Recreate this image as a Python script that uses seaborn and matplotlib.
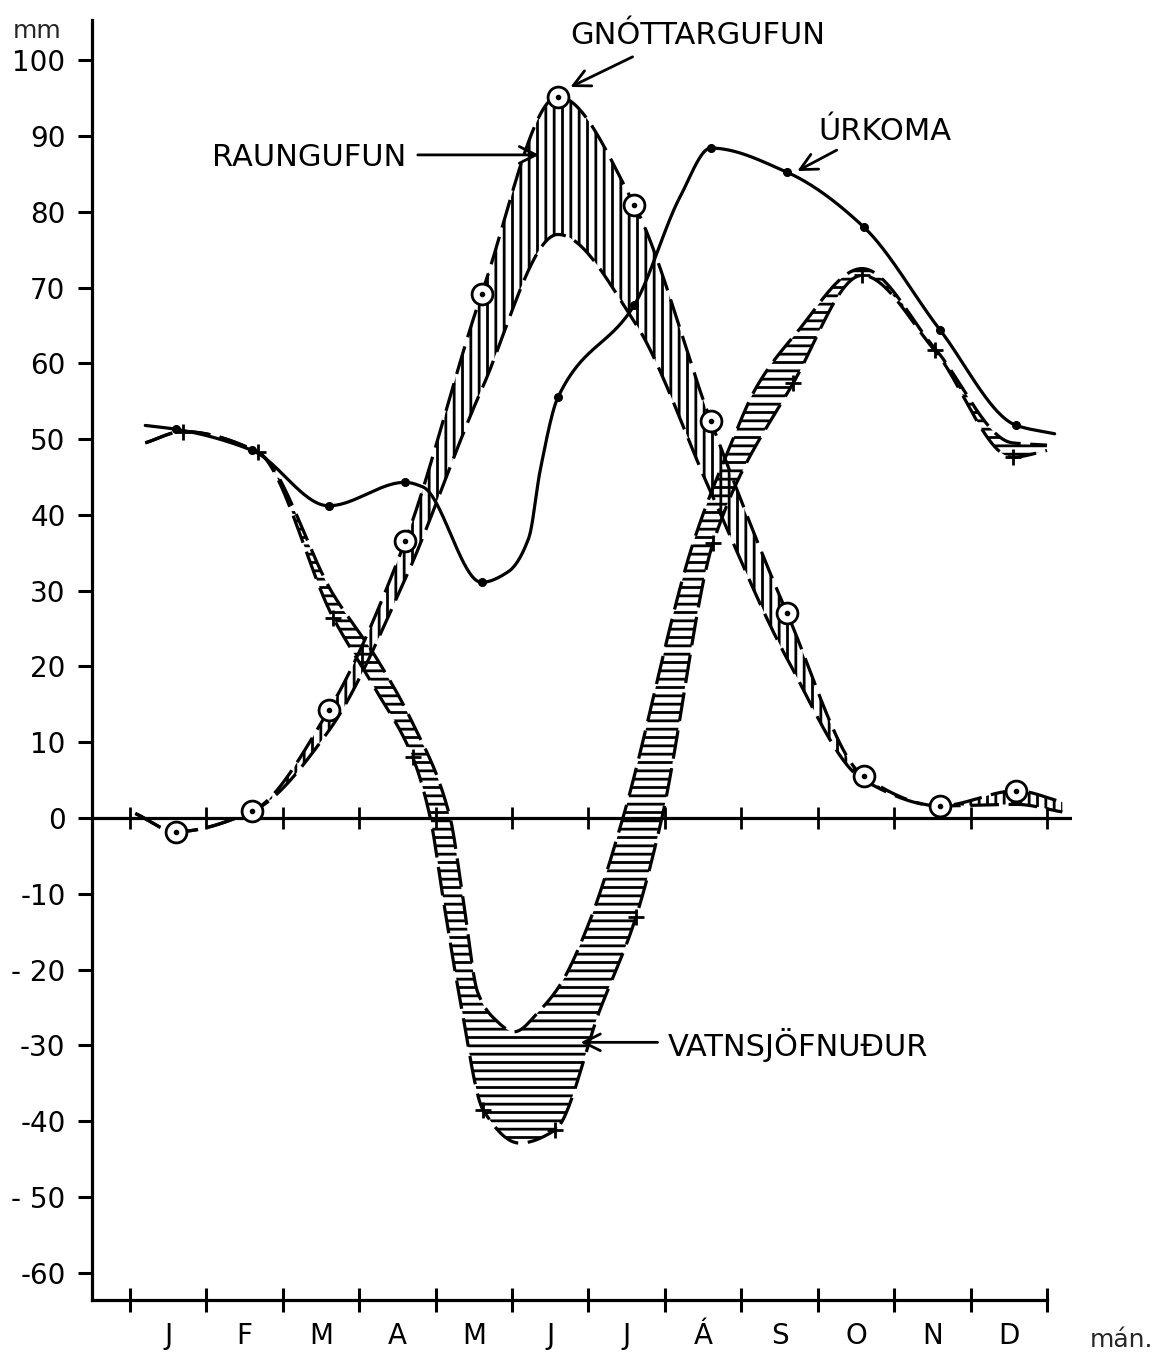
import numpy as np
import pandas as pd
import matplotlib
matplotlib.use("Agg")
import matplotlib.pyplot as plt
import seaborn as sns

# ---------------------------------------------------------------- data (mm)
MONTHS = ["J", "F", "M", "A", "M", "J", "J", "Á", "S", "O", "N", "D"]
MONTH_POS = np.arange(12) + 0.6          # monthly values sit a little past mid-month

# Úrkoma – precipitation (solid line, dots)
urkoma = [51.3, 48.5, 41.2, 44.3, 31.1, 55.5, 67.7, 88.4, 85.2, 78.0, 64.4, 51.8]
urkoma_shape = [(0.2, 51.8), (3.83, 43.7), (4.95, 32.5), (5.22, 37.0), (5.37, 46.0),
                (7.2, 82.0), (12.1, 50.7)]

# Gnóttargufun – potential evapotranspiration (dashed line, ringed dots)
gnottargufun = [-1.8, 0.9, 14.2, 36.5, 69.1, 95.2, 80.9, 52.4, 27.0, 5.5, 1.6, 3.6]
gnottargufun_ends = [(0.07, 0.6), (12.2, 2.1)]

# Raungufun – actual evapotranspiration (dashed line, lower edge of the vertical hatching)
raungufun = [-1.8, 0.9, 11.5, 31.5, 56.5, 77.0, 65.5, 43.0, 21.0, 5.0, 1.6, 1.8]
raungufun_ends = [(0.07, 0.6), (12.2, 0.8)]

# Vatnsjöfnuður – water balance (dashed line with + marks) ...
jofnudur_pos = [0.69, 1.67, 2.66, 3.70, 4.62, 5.56, 6.62, 7.63, 8.68, 9.58, 10.53, 11.55]
jofnudur = [51.0, 48.3, 26.4, 8.0, -38.5, -41.2, -13.1, 36.3, 57.4, 71.6, 61.7, 47.6]
jofnudur_shape = [(0.2, 49.5), (3.2, 17.2), (3.93, 0.0), (4.10, -10.8), (4.32, -24.0),
                  (5.10, -42.9), (6.15, -25.3), (6.96, 0.0), (12.0, 48.5)]
# ... and the upper edge of its horizontally hatched band
jofnudur_upper = [(0.2, 49.5), (0.69, 51.0), (1.67, 48.3), (2.66, 29.5), (3.2, 21.5),
                  (3.70, 12.5), (4.19, 0.0), (4.36, -10.8), (4.55, -23.0), (4.75, -26.3),
                  (5.03, -28.2), (5.37, -25.3), (5.63, -22.0), (6.02, -13.5), (6.45, 0.0),
                  (7.37, 36.3), (7.85, 49.0), (8.2, 56.9), (8.68, 63.5), (9.58, 72.5),
                  (10.53, 62.0), (11.55, 49.5), (12.0, 49.2)]

Y_TICKS = list(range(-60, 101, 10))
Y_LABELS = ["-60", "- 50", "-40", "-30", "- 20", "-10", "0",
            "10", "20", "30", "40", "50", "60", "70", "80", "90", "100"]


# ---------------------------------------------------------------- helpers
def pchip(xk, yk, xs):
    """Shape-preserving cubic through the given nodes."""
    xk = np.asarray(xk, float)
    yk = np.asarray(yk, float)
    h = np.diff(xk)
    d = np.diff(yk) / h
    m = np.zeros_like(yk)
    for k in range(1, len(xk) - 1):
        if d[k - 1] * d[k] > 0:
            w1 = 2 * h[k] + h[k - 1]
            w2 = h[k] + 2 * h[k - 1]
            m[k] = (w1 + w2) / (w1 / d[k - 1] + w2 / d[k])
    m[0], m[-1] = d[0], d[-1]
    i = np.clip(np.searchsorted(xk, xs) - 1, 0, len(xk) - 2)
    t = (xs - xk[i]) / h[i]
    return ((2 * t**3 - 3 * t**2 + 1) * yk[i] + (t**3 - 2 * t**2 + t) * h[i] * m[i]
            + (-2 * t**3 + 3 * t**2) * yk[i + 1] + (t**3 - t**2) * h[i] * m[i + 1])


def nodes(pos, vals, extra):
    pts = sorted(list(zip(pos, vals)) + list(extra))
    return [p[0] for p in pts], [p[1] for p in pts]


def curve(xk, yk, n=700):
    xs = np.linspace(xk[0], xk[-1], n)
    return xs, pchip(xk, yk, xs)


# ---------------------------------------------------------------- style
sns.set_theme(style="white")
plt.rcParams["font.family"] = ["DejaVu Sans"]
plt.rcParams["hatch.linewidth"] = 2.0
plt.rcParams["hatch.color"] = "black"

W, H = 1162, 1353
fig = plt.figure(figsize=(W / 100, H / 100), dpi=100)
ax = fig.add_axes([92 / W, 1 - 1300 / H, (1072 - 92) / W, (1300 - 20) / H])
ax.set_xlim(-0.497, 12.327)
ax.set_ylim(-63.6, 105.3)
ax.set_facecolor("white")

DASH = (0, (9, 3))
LW = 2.3

# ---------------------------------------------------------------- curves
px, py = nodes(MONTH_POS, urkoma, urkoma_shape)
ux, uy = curve(px, py)

gx_k, gy_k = nodes(MONTH_POS, gnottargufun, gnottargufun_ends)
rx_k, ry_k = nodes(MONTH_POS, raungufun, raungufun_ends)
ex = np.linspace(gx_k[0], gx_k[-1], 800)
ge = pchip(gx_k, gy_k, ex)
re = pchip(rx_k, ry_k, ex)

jx_k, jy_k = nodes(jofnudur_pos, jofnudur, jofnudur_shape)
bx = np.linspace(jx_k[0], jx_k[-1], 800)
blow = pchip(jx_k, jy_k, bx)
bup = pchip([p[0] for p in jofnudur_upper], [p[1] for p in jofnudur_upper], bx)

# hatched bands
ax.fill_between(ex, re, ge, where=ge > re + 0.05, facecolor="none", edgecolor="black",
                hatch="||", linewidth=0, zorder=1, interpolate=True)
ax.fill_between(bx, blow, bup, where=bup > blow + 0.05, facecolor="none", edgecolor="black",
                hatch="--", linewidth=0, zorder=1, interpolate=True)

lines = pd.DataFrame({"x": ux, "y": uy})
sns.lineplot(data=lines, x="x", y="y", ax=ax, color="black", linewidth=LW,
             estimator=None, sort=False, zorder=3)
for xs, ys in [(ex, ge), (ex, re), (bx, blow), (bx, bup)]:
    sns.lineplot(x=xs, y=ys, ax=ax, color="black", linewidth=LW, linestyle=DASH,
                 estimator=None, sort=False, zorder=3)

# markers
ax.plot(MONTH_POS, urkoma, "o", ms=5.5, color="black", zorder=5)
ax.plot(MONTH_POS, gnottargufun, "o", ms=15, mfc="white", mec="black", mew=2.0, zorder=6)
ax.plot(MONTH_POS, gnottargufun, "o", ms=3.0, color="black", zorder=7)
ax.plot(jofnudur_pos, jofnudur, "+", ms=12, mew=2.0, color="black", zorder=5)

# zero line with month ticks
ax.plot([-0.497, 12.327], [0, 0], color="black", lw=LW, zorder=2)
ax.plot(np.arange(13), np.zeros(13), "|", ms=16, mew=2.0, color="black", zorder=2)

# ---------------------------------------------------------------- axes
for s in ("top", "right"):
    ax.spines[s].set_visible(False)
for s in ("left", "bottom"):
    ax.spines[s].set_linewidth(2.3)
    ax.spines[s].set_color("black")
ax.spines["bottom"].set_bounds(-0.497, 12)

ax.set_yticks(Y_TICKS)
ax.set_yticklabels(Y_LABELS)
ax.tick_params(axis="y", direction="out", length=10, width=2.2, labelsize=20, pad=9,
               colors="black", left=True)
ax.set_xticks(range(13))
ax.set_xticklabels([])
ax.set_xticks(np.arange(12) + 0.5, minor=True)
ax.set_xticklabels(MONTHS, minor=True)
ax.tick_params(axis="x", which="major", direction="inout", length=17, width=2.2,
               bottom=True, colors="black")
ax.tick_params(axis="x", which="minor", length=0, pad=16, labelsize=20,
               bottom=True, labelcolor="black")
ax.set_xlabel("")
ax.set_ylabel("")

fig.text(37 / W, 1 - 31 / H, "mm", ha="center", va="center", fontsize=18)
fig.text(1122 / W, 1 - 1340 / H, "mán.", ha="center", va="center", fontsize=18)

# ---------------------------------------------------------------- labels with arrows
ARROW = dict(arrowstyle="->", lw=2.0, color="black", mutation_scale=30)
TXT = dict(fontsize=22, color="black", va="center")

ax.text(7.43, 103.3, "GNÓTTARGUFUN", ha="center", **TXT)
ax.annotate("", xy=(5.73, 96.3), xytext=(6.61, 100.6), arrowprops=ARROW)

ax.text(2.34, 87.2, "RAUNGUFUN", ha="center", **TXT)
ax.annotate("", xy=(5.39, 87.5), xytext=(3.73, 87.5), arrowprops=ARROW)

ax.text(9.88, 90.6, "ÚRKOMA", ha="center", **TXT)
ax.annotate("", xy=(8.70, 85.2), xytext=(9.28, 88.3), arrowprops=ARROW)

ax.text(7.04, -29.9, "VATNSJÖFNUÐUR", ha="left", **TXT)
ax.annotate("", xy=(5.86, -29.6), xytext=(6.94, -29.6), arrowprops=ARROW)

fig.savefig("out.png", dpi=100)
